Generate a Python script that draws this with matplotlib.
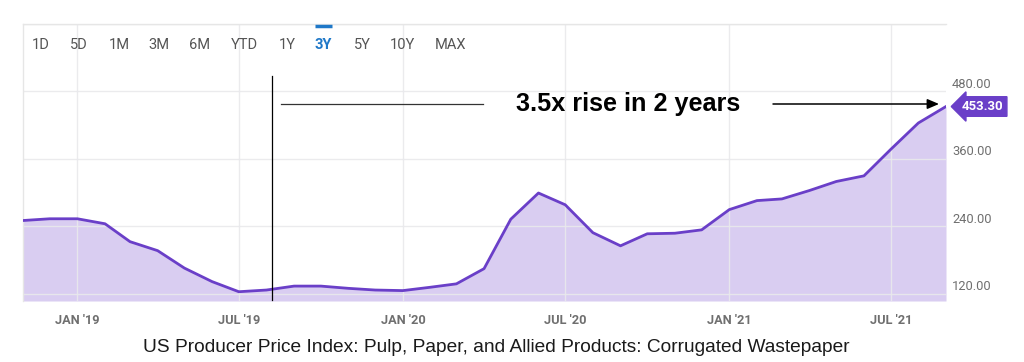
import matplotlib
matplotlib.use("Agg")
import matplotlib.pyplot as plt
import matplotlib.transforms as mtransforms
import pandas as pd
import numpy as np

# ---- data ----
start_month = "2018-11-01"
values = [250.6, 253.7, 253.7, 244.8, 213.0, 197.0, 166.0, 142.0, 124.0, 127.0,
          134.0, 134.0, 130.0, 127.0, 126.0, 132.0, 138.0, 165.0, 253.0, 299.5,
          278.6, 229.0, 205.6, 227.0, 228.0, 234.0, 270.0, 286.0, 289.0, 304.0,
          320.0, 330.0, 377.0, 424.0, 453.3]
dates = pd.date_range(start_month, periods=len(values), freq="MS")
xtick_dates = ["2019-01-01", "2019-07-01", "2020-01-01", "2020-07-01", "2021-01-01", "2021-07-01"]
xtick_labels = ["JAN '19", "JUL '19", "JAN '20", "JUL '20", "JAN '21", "JUL '21"]
ytick_values = [120, 240, 360, 480]
range_buttons = ["1D", "5D", "1M", "3M", "6M", "YTD", "1Y", "3Y", "5Y", "10Y", "MAX"]
active_button = "3Y"
annotation_text = "3.5x rise in 2 years"
caption = "US Producer Price Index: Pulp, Paper, and Allied Products: Corrugated Wastepaper"

# ---- style ----
W, H = 1024, 362
LINE = "#6a3fc8"
FILL = "#d9cdf1"
GRID = "#e9e9ec"
TICK = "#6f6f6f"
BLUE = "#1f78c8"

fig = plt.figure(figsize=(W / 100, H / 100), dpi=100)
ax = fig.add_axes([23 / W, 1 - 301 / H, (946 - 23) / W, (301 - 24) / H])

ymin, ymax = 107.5, 600
ax.set_ylim(ymin, ymax)
ax.set_xlim(pd.Timestamp(start_month), dates[-1])

ax.fill_between(dates, values, ymin, color=FILL, lw=0, zorder=1)
ax.plot(dates, values, color=LINE, lw=2.0, zorder=3, solid_joinstyle="round")

# grid
for yv in ytick_values + [600]:
    ax.axhline(yv, color=GRID, lw=1, zorder=2, alpha=0.9)
xt = pd.to_datetime(xtick_dates)
for d in xt:
    ax.axvline(d, color=GRID, lw=1, zorder=2, alpha=0.9)

for s in ["right", "bottom"]:
    ax.spines[s].set_visible(False)
for s in ["top", "left"]:
    ax.spines[s].set_color("#e6e6e6")
    ax.spines[s].set_linewidth(1)

ax.set_yticks([])
ax.set_xticks(xt)
ax.set_xticklabels(xtick_labels)
ax.tick_params(axis="x", length=0, pad=9, labelsize=9.2, labelcolor=TICK)
for lab in ax.get_xticklabels():
    lab.set_family("Roboto")
    lab.set_fontweight("bold")

# right-side y labels, drawn slightly above gridlines
ytrans = mtransforms.blended_transform_factory(ax.transAxes, ax.transData)
yoff = mtransforms.offset_copy(ytrans, fig=fig, x=6, y=7, units="dots")
for yv in ytick_values:
    ax.text(1.0, yv, f"{yv:.2f}", transform=yoff, ha="left", va="center",
            fontsize=9.3, color=TICK, family="Roboto", clip_on=False)

# last value tag
last = values[-1]
tagtrans = mtransforms.offset_copy(ax.transData, fig=fig, x=16, y=0, units="dots")
ax.text(dates[-1], last, f"{last:.2f}", transform=tagtrans, ha="left", va="center",
        fontsize=9.5, color="white", fontweight="bold", family="Roboto", clip_on=False,
        bbox=dict(boxstyle="larrow,pad=0.25", fc=LINE, ec=LINE), zorder=6)

# range buttons
btn_x = [41, 79, 119, 159, 200, 244, 287, 323, 362, 402, 450]
for name, bx in zip(range_buttons, btn_x):
    active = name == active_button
    fig.text(bx / W, 1 - 45 / H, name, ha="center", va="center", fontsize=10.5,
             family="Roboto", color=BLUE if active else "#555555",
             fontweight="bold" if active else "normal")
    if active:
        fig.add_artist(plt.Line2D([315 / W, 332 / W], [1 - 25.5 / H, 1 - 25.5 / H],
                                  color=BLUE, lw=2.5, solid_capstyle="butt"))

# annotation lines
fig.add_artist(plt.Line2D([271.5 / W, 271.5 / W], [1 - 76 / H, 1 - 300 / H], color="black", lw=0.9))
fig.add_artist(plt.Line2D([281 / W, 483 / W], [1 - 104 / H, 1 - 104 / H], color="#333333", lw=0.9))
fig.text(628 / W, 1 - 104 / H, annotation_text, ha="center", va="center",
         fontsize=18.2, fontweight="bold", family="Liberation Sans", color="black")
ax_arrow = fig.add_axes([0, 0, 1, 1], facecolor="none")
ax_arrow.set_xlim(0, W)
ax_arrow.set_ylim(H, 0)
ax_arrow.axis("off")
ax_arrow.annotate("", xy=(939, 104), xytext=(773, 104),
                  arrowprops=dict(arrowstyle="-|>,head_length=0.7,head_width=0.3",
                                  color="black", lw=1.1, shrinkA=0, shrinkB=0))

fig.text(496 / W, 1 - 347 / H, caption, ha="center", va="center", fontsize=13.8,
         family="Liberation Sans", color="#1a1a1a")

fig.savefig("out.png", dpi=100)
